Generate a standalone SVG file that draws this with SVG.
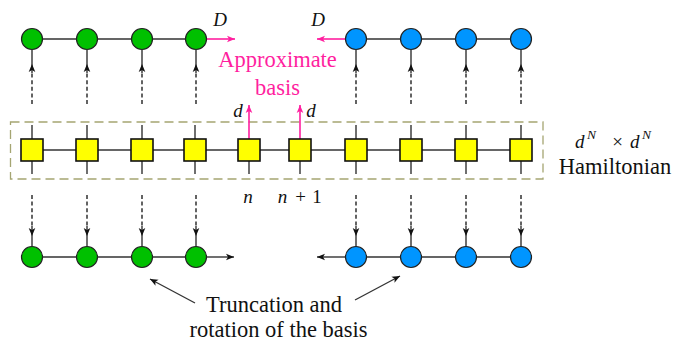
<svg xmlns="http://www.w3.org/2000/svg" width="686" height="345" viewBox="0 0 686 345">
<defs>
<marker id="ah" markerUnits="userSpaceOnUse" orient="auto" markerWidth="10" markerHeight="10" refX="0" refY="0" overflow="visible"><path d="M0,0 L-8,-3.3 L-6,0 L-8,3.3 z" fill="#111"/></marker>
<marker id="ap" markerUnits="userSpaceOnUse" orient="auto" markerWidth="10" markerHeight="10" refX="0" refY="0" overflow="visible"><path d="M0,0 L-8,-3.3 L-6,0 L-8,3.3 z" fill="#ff1f9f"/></marker>
</defs>

<rect x="10.5" y="122" width="532.5" height="57" fill="none" stroke="#a5a572" stroke-width="1.3" stroke-dasharray="9,5"/>

<g id="connectors" fill="none" stroke="#333" stroke-width="1.4">
<path d="M32,39 H196 M356,39 H521"/>
<path d="M32,104 V72 M87,104 V72 M142,104 V72 M196,104 V72 M356,104 V72 M411,104 V72 M466,104 V72 M521,104 V72" stroke="#222" stroke-dasharray="4,2.6"/>
<path d="M32,50 V64 M87,50 V64 M142,50 V64 M196,50 V64 M356,50 V64 M411,50 V64 M466,50 V64 M521,50 V64"/>
<path d="M32,73 V64" marker-end="url(#ah)"/>
<path d="M87,73 V64" marker-end="url(#ah)"/>
<path d="M142,73 V64" marker-end="url(#ah)"/>
<path d="M196,73 V64" marker-end="url(#ah)"/>
<path d="M356,73 V64" marker-end="url(#ah)"/>
<path d="M411,73 V64" marker-end="url(#ah)"/>
<path d="M466,73 V64" marker-end="url(#ah)"/>
<path d="M521,73 V64" marker-end="url(#ah)"/>
<path d="M32,150 H521"/>
<path d="M32,125 V174 M87,125 V174 M142,125 V174 M195,125 V174 M249,150 V174 M300,150 V174 M356,125 V174 M411,125 V174 M466,125 V174 M521,125 V174"/>
<g stroke="#ff1f9f" stroke-width="1.6">
<path d="M206.5,39 H235" marker-end="url(#ap)"/>
<path d="M345.5,39 H317" marker-end="url(#ap)"/>
<path d="M249,139 V105" marker-end="url(#ap)"/>
<path d="M300,139 V105" marker-end="url(#ap)"/>
</g>
<path d="M32,195 V227 M87,195 V227 M142,195 V227 M196,195 V227 M356,195 V227 M411,195 V227 M466,195 V227 M521,195 V227" stroke="#222" stroke-dasharray="4,2.6"/>
<path d="M32,236 V246.5 M87,236 V246.5 M142,236 V246.5 M196,236 V246.5 M356,236 V246.5 M411,236 V246.5 M466,236 V246.5 M521,236 V246.5"/>
<path d="M32,226 V236" marker-end="url(#ah)"/>
<path d="M87,226 V236" marker-end="url(#ah)"/>
<path d="M142,226 V236" marker-end="url(#ah)"/>
<path d="M196,226 V236" marker-end="url(#ah)"/>
<path d="M356,226 V236" marker-end="url(#ah)"/>
<path d="M411,226 V236" marker-end="url(#ah)"/>
<path d="M466,226 V236" marker-end="url(#ah)"/>
<path d="M521,226 V236" marker-end="url(#ah)"/>
<path d="M32,257 H196 M356,257 H521"/>
<path d="M206.5,257 H234" marker-end="url(#ah)"/>
<path d="M345.5,257 H317" marker-end="url(#ah)"/>
<path d="M195,303 L150,279" marker-end="url(#ah)"/>
<path d="M355,300 L400,276" marker-end="url(#ah)"/>
</g>

<g id="top-left" fill="#00c000" stroke="#222" stroke-width="1.2">
<circle cx="32" cy="39" r="10.5"/>
<circle cx="87" cy="39" r="10.5"/>
<circle cx="142" cy="39" r="10.5"/>
<circle cx="196" cy="39" r="10.5"/>
</g>
<g id="top-right" fill="#0095ff" stroke="#222" stroke-width="1.2">
<circle cx="356" cy="39" r="10.5"/>
<circle cx="411" cy="39" r="10.5"/>
<circle cx="466" cy="39" r="10.5"/>
<circle cx="521" cy="39" r="10.5"/>
</g>
<g id="hamiltonian" fill="#ffff00" stroke="#111" stroke-width="1.6">
<rect x="21" y="139" width="22" height="22"/>
<rect x="76" y="139" width="22" height="22"/>
<rect x="131" y="139" width="22" height="22"/>
<rect x="184" y="139" width="22" height="22"/>
<rect x="238" y="139" width="22" height="22"/>
<rect x="289" y="139" width="22" height="22"/>
<rect x="345" y="139" width="22" height="22"/>
<rect x="400" y="139" width="22" height="22"/>
<rect x="455" y="139" width="22" height="22"/>
<rect x="510" y="139" width="22" height="22"/>
</g>
<g id="bottom-left" fill="#00c000" stroke="#222" stroke-width="1.2">
<circle cx="32" cy="257" r="10.5"/>
<circle cx="87" cy="257" r="10.5"/>
<circle cx="142" cy="257" r="10.5"/>
<circle cx="196" cy="257" r="10.5"/>
</g>
<g id="bottom-right" fill="#0095ff" stroke="#222" stroke-width="1.2">
<circle cx="356" cy="257" r="10.5"/>
<circle cx="411" cy="257" r="10.5"/>
<circle cx="466" cy="257" r="10.5"/>
<circle cx="521" cy="257" r="10.5"/>
</g>

<text font-family="'Liberation Serif', 'Times New Roman', serif" font-style="italic" fill="#111" x="220" y="26" font-size="19" text-anchor="middle">D</text>
<text font-family="'Liberation Serif', 'Times New Roman', serif" font-style="italic" fill="#111" x="318" y="26" font-size="19" text-anchor="middle">D</text>
<text font-family="'Liberation Serif', 'Times New Roman', serif" fill="#ff1f9f" x="277.5" y="67" font-size="22.5" text-anchor="middle">Approximate</text>
<text font-family="'Liberation Serif', 'Times New Roman', serif" fill="#ff1f9f" x="277.5" y="95" font-size="22.5" text-anchor="middle">basis</text>
<text font-family="'Liberation Serif', 'Times New Roman', serif" font-style="italic" fill="#111" x="238" y="117" font-size="19" text-anchor="middle">d</text>
<text font-family="'Liberation Serif', 'Times New Roman', serif" font-style="italic" fill="#111" x="311" y="117" font-size="19" text-anchor="middle">d</text>
<text font-family="'Liberation Serif', 'Times New Roman', serif" font-style="italic" fill="#111" x="248" y="203" font-size="19" text-anchor="middle">n</text>
<text font-family="'Liberation Serif', 'Times New Roman', serif" font-style="italic" fill="#111" x="282.5" y="203" font-size="19" text-anchor="middle">n</text>
<text font-family="'Liberation Serif', 'Times New Roman', serif" fill="#111" x="300.5" y="203" font-size="19" text-anchor="middle">+</text>
<text font-family="'Liberation Serif', 'Times New Roman', serif" fill="#111" x="317" y="203" font-size="19" text-anchor="middle">1</text>
<text font-family="'Liberation Serif', 'Times New Roman', serif" font-style="italic" fill="#111" x="575" y="148" font-size="19">d</text>
<text font-family="'Liberation Serif', 'Times New Roman', serif" font-style="italic" fill="#111" x="587" y="139" font-size="13.5">N</text>
<text font-family="'Liberation Serif', 'Times New Roman', serif" fill="#111" x="617.5" y="148" font-size="19" text-anchor="middle">&#215;</text>
<text font-family="'Liberation Serif', 'Times New Roman', serif" font-style="italic" fill="#111" x="630" y="148" font-size="19">d</text>
<text font-family="'Liberation Serif', 'Times New Roman', serif" font-style="italic" fill="#111" x="642" y="139" font-size="13.5">N</text>
<text font-family="'Liberation Serif', 'Times New Roman', serif" fill="#111" x="615" y="174" font-size="22.5" text-anchor="middle">Hamiltonian</text>
<text font-family="'Liberation Serif', 'Times New Roman', serif" fill="#111" x="274" y="312" font-size="22.5" text-anchor="middle">Truncation and</text>
<text font-family="'Liberation Serif', 'Times New Roman', serif" fill="#111" x="278.5" y="337" font-size="22.5" text-anchor="middle">rotation of the basis</text>
</svg>
